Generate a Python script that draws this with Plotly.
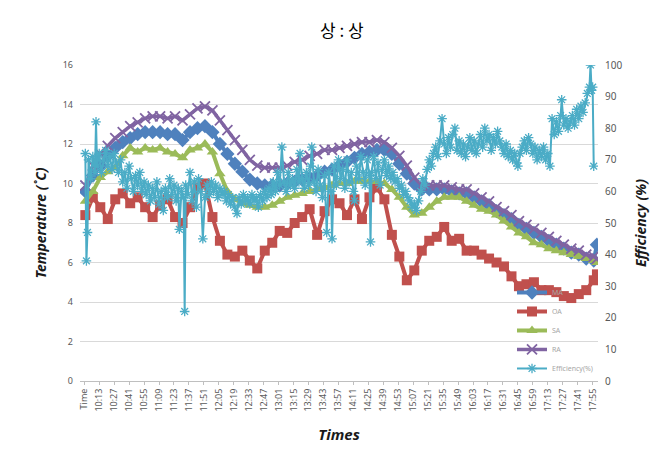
import plotly.graph_objects as go

# x categories: header row "Time" + one row per minute 10:00 .. 17:59
def minute_label(m):
    h, mm = divmod(600 + m, 60)
    return f"{h}:{mm:02d}"

CATEGORIES = ["Time"] + [minute_label(m) for m in range(480)]

TICK_LABELS = ["Time", "10:13", "10:27", "10:41", "10:55", "11:09", "11:23", "11:37",
               "11:51", "12:05", "12:19", "12:33", "12:47", "13:01", "13:15", "13:29",
               "13:43", "13:57", "14:11", "14:25", "14:39", "14:53", "15:07", "15:21",
               "15:35", "15:49", "16:03", "16:17", "16:31", "16:45", "16:59", "17:13",
               "17:27", "17:41", "17:55"]

# temperature readings (every 7 min)
TEMP_MIN = list(range(0, 477, 7)) + [479]

MA = [9.6, 10.4, 10.9, 11.4, 11.8, 12.1, 12.3, 12.5, 12.6, 12.6, 12.6, 12.5, 12.5, 12.2,
      12.6, 12.8, 12.9, 12.6, 12.0, 11.5, 11.0, 10.6, 10.2, 10.0, 9.9, 9.9, 9.9, 10.0,
      10.1, 10.2, 10.3, 10.4, 10.6, 10.7, 10.9, 11.1, 11.3, 11.5, 11.6, 11.7, 11.7, 11.5,
      11.0, 10.5, 10.0, 9.7, 9.7, 9.7, 9.7, 9.6, 9.5, 9.5, 9.3, 9.1, 8.9, 8.6, 8.4, 8.2,
      7.9, 7.7, 7.5, 7.3, 7.1, 6.9, 6.7, 6.5, 6.4, 6.2, 6.1, 6.9]

OA = [8.4, 9.3, 8.8, 8.2, 9.2, 9.5, 9.0, 9.3, 8.8, 8.3, 8.9, 9.2, 8.3, 8.0, 8.8, 9.8,
      10.0, 8.3, 7.1, 6.4, 6.3, 6.6, 6.1, 5.7, 6.6, 7.0, 7.6, 7.5, 8.0, 8.3, 8.7, 7.4,
      8.6, 9.2, 9.0, 8.4, 9.2, 8.2, 9.3, 9.8, 9.2, 7.4, 6.3, 5.1, 5.6, 6.6, 7.1, 7.3,
      7.8, 7.1, 7.2, 6.6, 6.6, 6.4, 6.2, 6.0, 5.8, 5.3, 4.8, 4.9, 5.0, 4.6, 4.6, 4.5,
      4.3, 4.2, 4.4, 4.6, 5.1, 5.4]

SA = [9.1, 9.6, 10.3, 10.6, 10.8, 11.4, 11.8, 11.6, 11.8, 11.7, 11.8, 11.6, 11.5, 11.3,
      11.7, 11.8, 12.0, 11.6, 10.5, 9.6, 9.2, 9.0, 8.9, 8.8, 8.8, 8.9, 9.1, 9.3, 9.4,
      9.5, 9.6, 9.7, 9.8, 9.9, 10.0, 10.0, 10.1, 10.1, 10.1, 10.1, 10.0, 9.7, 9.3, 8.8,
      8.4, 8.5, 8.8, 9.1, 9.3, 9.3, 9.3, 9.1, 8.9, 8.7, 8.6, 8.4, 8.1, 7.8, 7.5, 7.3,
      7.0, 6.9, 6.7, 6.6, 6.5, 6.4, 6.3, 6.2, 6.1, 6.0]

RA = [9.9, 10.9, 11.5, 11.9, 12.3, 12.6, 12.9, 13.1, 13.3, 13.4, 13.4, 13.3, 13.4, 13.2,
      13.5, 13.8, 13.9, 13.7, 13.2, 12.7, 12.2, 11.7, 11.2, 10.9, 10.8, 10.8, 10.8, 10.9,
      11.1, 11.2, 11.4, 11.5, 11.7, 11.7, 11.8, 11.9, 12.0, 12.1, 12.1, 12.2, 12.1, 11.8,
      11.4, 10.9, 10.3, 9.9, 9.9, 9.9, 9.9, 9.8, 9.7, 9.7, 9.5, 9.3, 9.1, 8.8, 8.6, 8.4,
      8.1, 7.9, 7.7, 7.5, 7.3, 7.1, 6.9, 6.7, 6.6, 6.4, 6.3, 6.2]

# efficiency (%) readings, minute offsets from 10:00
EFF_MIN = [0, 1, 2, 3, 5, 7, 9, 10, 11, 13, 15, 17, 19, 21, 23, 25, 27, 29, 31, 33, 35, 37,
           39, 41, 43, 45, 47, 49, 51, 53, 55, 57, 59, 61, 63, 65, 67, 69, 71, 73, 75, 77,
           79, 81, 83, 85, 87, 88, 90, 92, 93, 94, 96, 98, 100, 102, 104, 106, 108, 110,
           112, 114, 116, 118, 120, 122, 124, 126, 128, 130, 132, 134, 136, 138, 140, 142,
           144, 146, 148, 150, 152, 154, 156, 158, 160, 162, 164, 166, 168, 170, 172, 174,
           176, 178, 180, 182, 184, 186, 188, 190, 192, 194, 196, 198, 200, 201, 203, 205,
           207, 209, 211, 212, 214, 216, 218, 220, 222, 224, 226, 228, 230, 231, 233, 235,
           237, 239, 241, 243, 245, 247, 249, 251, 252, 254, 256, 258, 260, 262, 264, 266,
           267, 268, 270, 272, 274, 276, 278, 280, 282, 284, 286, 288, 290, 292, 294, 296,
           298, 300, 302, 304, 306, 308, 310, 312, 314, 316, 318, 320, 322, 324, 326, 328,
           330, 332, 334, 336, 338, 340, 342, 344, 346, 348, 350, 352, 354, 356, 358, 360,
           362, 364, 366, 368, 370, 372, 374, 376, 378, 380, 382, 384, 386, 388, 390, 392,
           394, 396, 398, 400, 402, 404, 405, 407, 409, 411, 413, 415, 417, 419, 421, 423,
           425, 427, 429, 431, 433, 435, 437, 439, 441, 443, 445, 446, 448, 450, 452, 454,
           456, 458, 460, 462, 464, 466, 468, 470, 472, 473, 474, 475, 476]

EFF = [72, 38, 47, 70, 64, 71, 66, 82, 68, 72, 66, 70, 73, 68, 71, 67, 72, 69, 66, 70, 63, 66,
       61, 68, 64, 60, 65, 62, 66, 60, 63, 59, 62, 57, 61, 58, 63, 56, 60, 54, 61, 58,
       64, 59, 62, 57, 61, 48, 60, 58, 22, 62, 59, 66, 57, 63, 55, 64, 60, 45,
       58, 62, 59, 63, 60, 62, 58, 61, 59, 60, 57, 59, 56, 58, 55, 53,
       58, 56, 59, 57, 58, 56, 59, 57, 58, 55, 59, 57, 60, 58, 61, 59,
       63, 60, 66, 62, 74, 63, 60, 66, 62, 64, 61, 67, 63, 72, 64, 61,
       66, 62, 68, 74, 63, 60, 67, 62, 58, 65, 47, 66, 60, 45, 68, 62,
       70, 64, 67, 61, 70, 63, 66, 60, 57, 68, 64, 71, 66, 62, 70, 65,
       44, 66, 71, 64, 69, 62, 67, 70, 65, 68, 64, 66, 63, 64, 61, 62,
       59, 60, 58, 57, 55, 56, 54, 57, 60, 64, 62, 67, 70, 68, 72, 74,
       71, 76, 83, 75, 72, 77, 74, 78, 80, 73, 76, 72, 75, 71, 74, 77,
       73, 76, 72, 75, 78, 74, 80, 76, 78, 73, 77, 75, 79, 76, 74, 72,
       75, 71, 73, 70, 72, 69, 68, 72, 74, 76, 73, 77, 75, 72, 74, 70,
       73, 71, 74, 70, 72, 68, 83, 78, 82, 79, 84, 89, 81, 83, 80, 82,
       84, 81, 86, 83, 87, 85, 88, 91, 93, 100, 92, 93, 68]

temp_x = [minute_label(m) for m in TEMP_MIN]
eff_x = [minute_label(m) for m in EFF_MIN]

fig = go.Figure()

series = [
    ("MA", MA, "#4F81BD", "diamond", 11),
    ("OA", OA, "#C0504D", "square", 10),
    ("SA", SA, "#9BBB59", "triangle-up", 10),
]
for name, vals, col, sym, sz in series:
    fig.add_trace(go.Scatter(x=temp_x, y=vals, name=name, mode="lines+markers",
                             line=dict(color=col, width=4),
                             marker=dict(symbol=sym, size=sz, color=col)))

fig.add_trace(go.Scatter(x=temp_x, y=RA, name="RA", mode="lines+markers",
                         line=dict(color="#8064A2", width=3.5),
                         marker=dict(symbol="x-thin-open", size=10,
                                     line=dict(color="#8064A2", width=1.8))))

fig.add_trace(go.Scatter(x=eff_x, y=EFF, name="Efficiency(%)", mode="lines+markers",
                         yaxis="y2",
                         line=dict(color="#4BACC6", width=2),
                         marker=dict(symbol="asterisk-open", size=8,
                                     line=dict(color="#4BACC6", width=1.3))))

tick_font = dict(family="Noto Sans", size=9, color="#595959")
title_font = dict(family="Noto Sans", size=14, color="#1a1a1a", weight="bold", style="italic")

# the page adds an 8px body margin, so the figure is a bit smaller than the window
fig.update_layout(
    width=661, height=443,
    margin=dict(l=72, r=71, t=57, b=70),
    paper_bgcolor="white", plot_bgcolor="white",
    title=dict(text="상 : 상", x=0.505, xanchor="center", y=0.947, yanchor="middle",
               font=dict(family="Noto Sans CJK KR", size=17, color="black")),
    showlegend=True,
    legend=dict(x=0.834, y=0.326, xanchor="left", yanchor="top",
                bgcolor="rgba(0,0,0,0)", font=dict(family="Noto Sans", size=7, color="#a6a6a6"),
                itemwidth=30, tracegroupgap=0),
    xaxis=dict(type="category", categoryorder="array", categoryarray=CATEGORIES,
               range=[-4, 481], tickmode="array", tickvals=TICK_LABELS, ticktext=TICK_LABELS,
               tickangle=-90, tickfont=tick_font, showgrid=False, zeroline=False,
               showline=True, linecolor="#bfbfbf", ticks="outside", ticklen=3,
               tickcolor="#bfbfbf", automargin=False,
               title=dict(text="Times", font=dict(family="Noto Sans", size=15, color="#1a1a1a",
                                                 weight="bold", style="italic"), standoff=18)),
    yaxis=dict(range=[0, 16], dtick=2, tickfont=tick_font, showgrid=True,
               gridcolor="#d9d9d9", zeroline=False, showline=False, automargin=False,
               ticklabelstandoff=6,
               title=dict(text="Temperature (˚C)", font=title_font, standoff=12)),
    yaxis2=dict(range=[0, 100], dtick=10, overlaying="y", side="right", showgrid=False,
                zeroline=False, showline=False, automargin=False, ticklabelstandoff=6,
                tickfont=dict(family="Noto Sans", size=10, color="#595959"),
                title=dict(text="Efficiency (%)", font=title_font, standoff=14)),
)

fig.write_html("out.html")
